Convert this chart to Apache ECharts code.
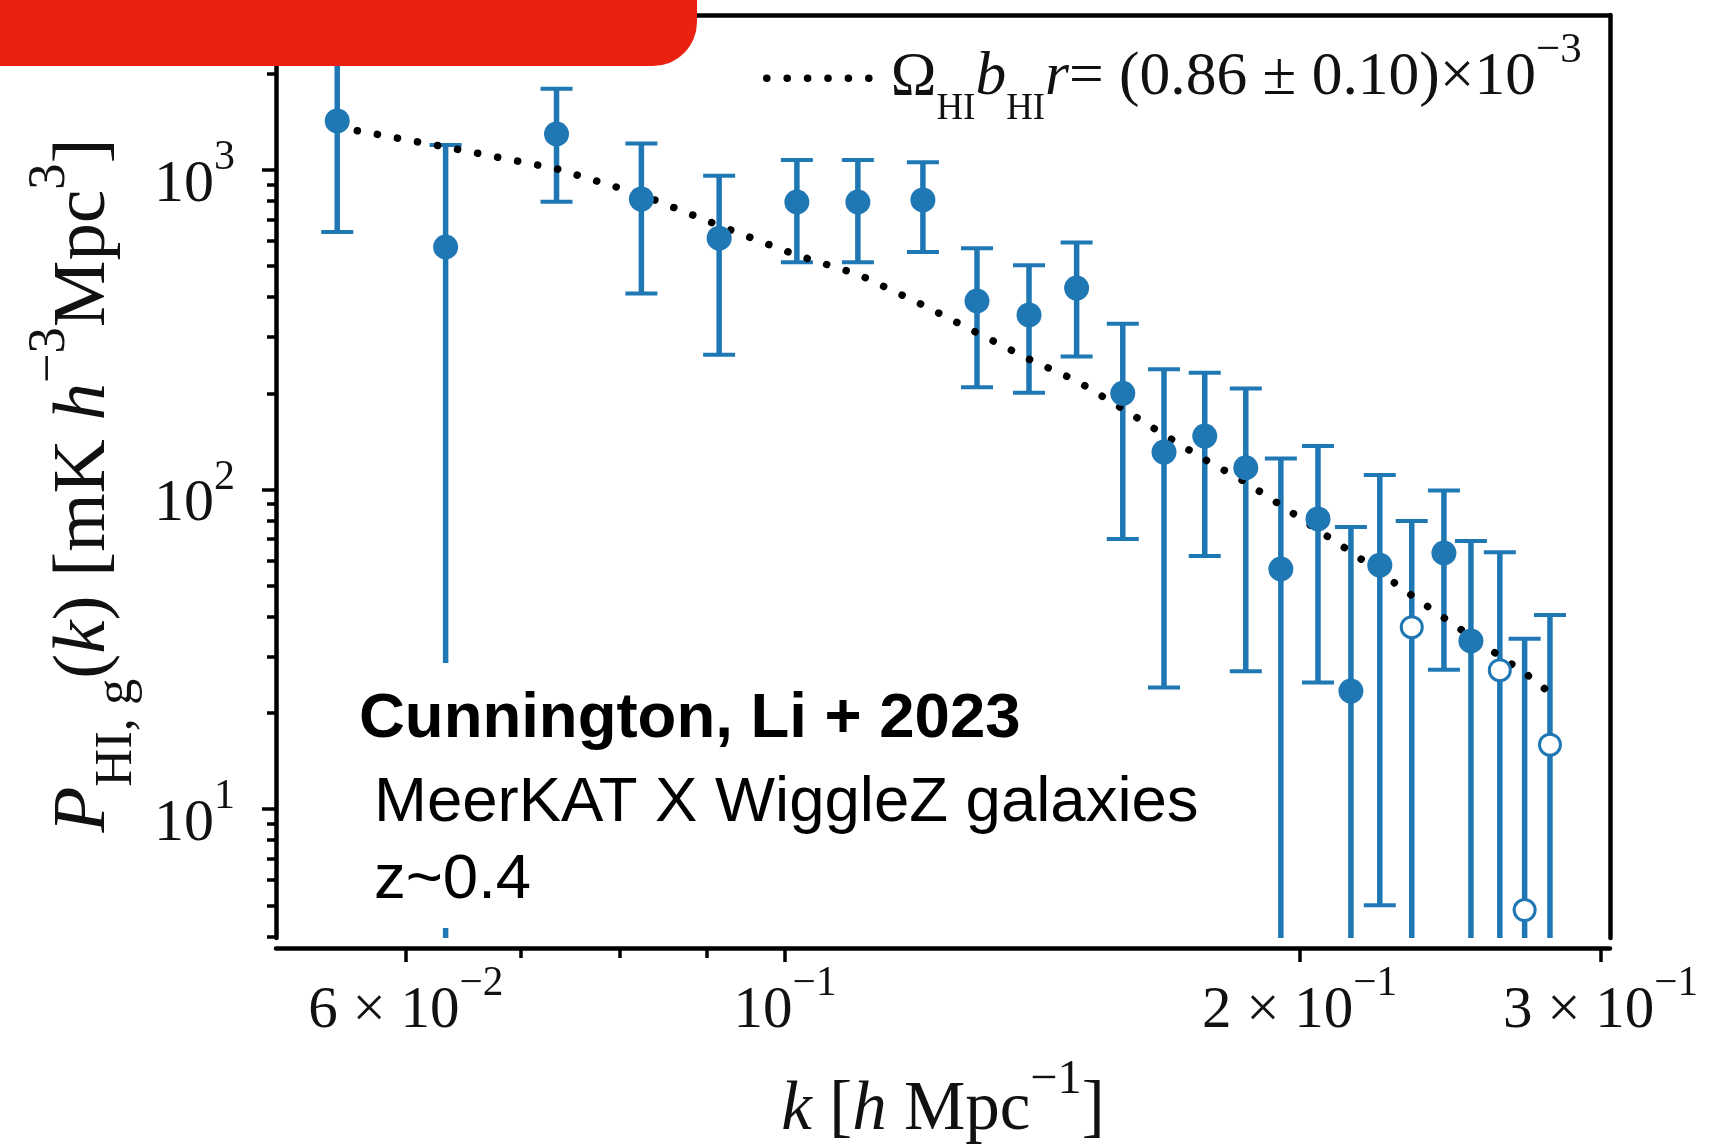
<!DOCTYPE html>
<html><head><meta charset="utf-8">
<script src="https://cdn.jsdelivr.net/npm/echarts@6/dist/echarts.min.js"></script>
<style>html,body{margin:0;padding:0;background:#fff}#c{width:1716px;height:1145px}</style>
</head><body><div id="c"></div>
<script>
// ---- data ----
const kValues = [0.0547,0.0633,0.0735,0.0824,0.0915,0.1016,0.1103,0.1204,0.1295,0.1389,0.1481,0.1576,0.1666,0.1760,0.1860,0.1950,0.2050,0.2143,0.2228,0.2326,0.2429,0.2519,0.2619,0.2708,0.2802];
const pValues = [1424,574,1296,811,612,794,794,806,389,352,427,200,131,147,117,56.4,80.9,23.4,58.0,37.1,63.3,33.6,27.2,4.83,15.9];
const errSigma = [784,624,500,400,348,280,280,252,180,151,166,130,107,85,90,68.6,56,52.9,53,42.6,36,35.4,36.5,29.3,24.6];
const isNegative = [0,0,0,0,0,0,0,0,0,0,0,0,0,0,0,0,0,0,0,1,0,0,1,1,1];
const modelValues = [1363,1180,1009,837,670,541,472,378,309.6,255.8,219.0,178.9,148.4,124.2,105.3,89.3,74.6,63.8,55.1,46.6,39.7,34.7,30.1,26.7,23.1];
const yMajorTicks = [10,100,1000];
const yTickLabels = [['10','1'],['10','2'],['10','3']];
const yMinorTicks = [4,5,6,7,8,9,20,30,40,50,60,70,80,90,200,300,400,500,600,700,800,900,2000,3000];
const xMajorTicks = [0.06,0.1,0.2,0.3];
const xTickLabels = [['6 × 10','−2'],['10','−1'],['2 × 10','−1'],['3 × 10','−1']];
const xMinorTicks = [0.07,0.08,0.09];
const X_MIN = 0.05037, X_MAX = 0.3038;
const Y_MIN = 3.95, Y_MAX = 3055;

const BLUE = '#1f77b4';
const SERIF = 'Liberation Serif';

function richSet(fs, family, subScale, supShift){
  const base = {fontFamily: family, color: '#111'};
  const ss = subScale || 0.7;
  const up = supShift || 0.27;
  return {
    b: Object.assign({}, base, {fontSize: fs, lineHeight: 1.6*fs}),
    i: Object.assign({}, base, {fontSize: fs, lineHeight: 1.6*fs, fontStyle: 'italic'}),
    q: Object.assign({}, base, {fontSize: fs, lineHeight: 1.6*fs, padding: [0,0,0,16]}),
    e: Object.assign({}, base, {fontSize: fs, lineHeight: 1.6*fs, padding: [0,18,0,0]}),
    s: Object.assign({}, base, {fontSize: ss*fs, lineHeight: 1.04*fs, verticalAlign: 'bottom'}),
    p: Object.assign({}, base, {fontSize: 0.7*fs, lineHeight: 2*(0.8-up)*fs, verticalAlign: 'top'})
  };
}
function tickLabel(v, ticks, labels){
  for (let i = 0; i < ticks.length; i++) {
    if (Math.abs(v - ticks[i]) / ticks[i] < 1e-6) return '{b|' + labels[i][0] + '}{p|' + labels[i][1] + '}';
  }
  return '';
}

const errData = kValues.map((k, i) => [k, pValues[i], errSigma[i]]);
const filledData = kValues.map((k, i) => [k, pValues[i]]).filter((d, i) => !isNegative[i]);
const openData = kValues.map((k, i) => [k, pValues[i]]).filter((d, i) => isNegative[i]);
const modelData = kValues.map((k, i) => [k, modelValues[i]]);

const spine = {show: true, lineStyle: {color: '#000', width: 4.5}};
const tickStyle = {color: '#000', width: 3.5};
const dotLine = {color: '#000', width: 7.5, type: [0.1, 20.3], cap: 'round'};

const chart = echarts.init(document.getElementById('c'), null, {renderer: 'canvas', width: 1716, height: 1145});
chart.setOption({
  animation: false,
  backgroundColor: '#fff',
  grid: {left: 276, right: 106, top: 15, bottom: 207, containLabel: false, outerBoundsMode: 'none'},
  xAxis: [
    {type: 'log', min: X_MIN, max: X_MAX, position: 'bottom', offset: 10,
     axisLine: spine,
     axisTick: {show: true, length: 14, lineStyle: tickStyle, customValues: xMajorTicks},
     axisLabel: {show: true, customValues: xMajorTicks, margin: 16, fontSize: 59, fontFamily: SERIF, color: '#111',
       formatter: v => tickLabel(v, xMajorTicks, xTickLabels), rich: richSet(59, SERIF)},
     splitLine: {show: false}, minorTick: {show: false},
     name: '{i|k}{b| [}{i|h}{b| Mpc}{p|−1}{b|]}', nameLocation: 'middle', nameGap: 108, nameMoveOverlap: false,
     nameTextStyle: {fontSize: 69, fontFamily: SERIF, color: '#111', rich: richSet(69, SERIF)}},
    {type: 'log', min: X_MIN, max: X_MAX, position: 'bottom', offset: 10,
     axisLine: {show: false},
     axisTick: {show: true, length: 10, lineStyle: tickStyle, customValues: xMinorTicks},
     axisLabel: {show: false}, splitLine: {show: false}},
    {type: 'log', min: X_MIN, max: X_MAX, position: 'top',
     axisLine: spine, axisTick: {show: false}, axisLabel: {show: false}, splitLine: {show: false}}
  ],
  yAxis: [
    {type: 'log', min: Y_MIN, max: Y_MAX, position: 'left',
     axisLine: spine,
     axisTick: {show: true, length: 14, lineStyle: tickStyle, customValues: yMajorTicks},
     axisLabel: {show: true, customValues: yMajorTicks, margin: 41, padding: [30, 0, 0, 0], fontSize: 60, fontFamily: SERIF, color: '#111',
       formatter: v => tickLabel(v, yMajorTicks, yTickLabels), rich: richSet(60, SERIF)},
     splitLine: {show: false}, minorTick: {show: false},
     name: '{i|P}{s|HI, g}{b|(}{i|k}{b|) [mK }{i|h}{p|−3}{b|Mpc}{p|3}{e|]}', nameLocation: 'middle', nameRotate: 90,
     nameGap: 132, nameMoveOverlap: false,
     nameTextStyle: {fontSize: 75, fontFamily: SERIF, color: '#111', rich: richSet(75, SERIF, 0.7, 0.2)}},
    {type: 'log', min: Y_MIN, max: Y_MAX, position: 'left',
     axisLine: {show: false},
     axisTick: {show: true, length: 9, lineStyle: tickStyle, customValues: yMinorTicks},
     axisLabel: {show: false}, splitLine: {show: false}},
    {type: 'log', min: Y_MIN, max: Y_MAX, position: 'right',
     axisLine: spine, axisTick: {show: false}, axisLabel: {show: false}, splitLine: {show: false}}
  ],
  legend: {
    show: true, data: ['model'], left: 763, top: 29, padding: 0,
    itemWidth: 103, itemHeight: 10,
    formatter: () => '{q|Ω}{s|HI}{i|b}{s|HI}{i|r}{b|= (0.86 ± 0.10)×10}{p|−3}',
    textStyle: {fontSize: 61.5, fontFamily: SERIF, color: '#111', rich: richSet(61.5, SERIF, 0.6)},
    itemStyle: {opacity: 0},
    lineStyle: dotLine
  },
  series: [
    {name: 'errors', type: 'custom', xAxisIndex: 0, yAxisIndex: 0, z: 2,
     encode: {x: 0, y: 1},
     data: errData,
     renderItem: function (params, api) {
       const k = api.value(0), v = api.value(1), s = api.value(2);
       const lo = v - s, hi = v + s;
       const top = api.coord([k, Math.min(hi, Y_MAX)]);
       const bot = api.coord([k, Math.max(lo, Y_MIN)]);
       const st = {stroke: BLUE, lineWidth: 5.5};
       const cst = {stroke: BLUE, lineWidth: 4};
       const cw = 16;
       const ch = [{type: 'line', shape: {x1: top[0], y1: top[1], x2: bot[0], y2: bot[1]}, style: st}];
       if (hi < Y_MAX) ch.push({type: 'line', shape: {x1: top[0]-cw, y1: top[1], x2: top[0]+cw, y2: top[1]}, style: cst});
       if (lo > Y_MIN) ch.push({type: 'line', shape: {x1: bot[0]-cw, y1: bot[1], x2: bot[0]+cw, y2: bot[1]}, style: cst});
       return {type: 'group', children: ch};
     }},
    {name: 'model', type: 'line', xAxisIndex: 0, yAxisIndex: 0, z: 3,
     data: modelData, symbol: 'none', showSymbol: false, smooth: false,
     itemStyle: {color: '#000'},
     lineStyle: dotLine},
    {name: 'detections', type: 'scatter', xAxisIndex: 0, yAxisIndex: 0, z: 4,
     data: filledData, symbol: 'circle', symbolSize: 25, itemStyle: {color: BLUE, opacity: 1}},
    {name: 'negative', type: 'scatter', xAxisIndex: 0, yAxisIndex: 0, z: 4,
     data: openData, symbol: 'circle', symbolSize: 21, itemStyle: {color: '#fff', borderColor: BLUE, borderWidth: 3, opacity: 1}}
  ],
  graphic: [
    {type: 'rect', z: 50, silent: true, shape: {x: 355, y: 663, width: 775, height: 265}, style: {fill: '#fff'}},
    {type: 'text', z: 60, x: 359, y: 719, style: {text: 'Cunnington, Li + 2023', fontSize: 63.5, fontWeight: 'bold',
      fontFamily: 'Liberation Sans', fill: '#000', verticalAlign: 'middle'}},
    {type: 'text', z: 60, x: 374, y: 803, style: {text: 'MeerKAT X WiggleZ galaxies', fontSize: 63.5,
      fontFamily: 'Liberation Sans', fill: '#000', verticalAlign: 'middle'}},
    {type: 'text', z: 60, x: 374, y: 880, style: {text: 'z~0.4', fontSize: 63.5,
      fontFamily: 'Liberation Sans', fill: '#000', verticalAlign: 'middle'}},
    {type: 'rect', z: 70, silent: true, shape: {x: 0, y: 0, width: 697, height: 66, r: [0, 0, 44, 0]}, style: {fill: '#EB2110'}}
  ]
});
</script></body></html>
